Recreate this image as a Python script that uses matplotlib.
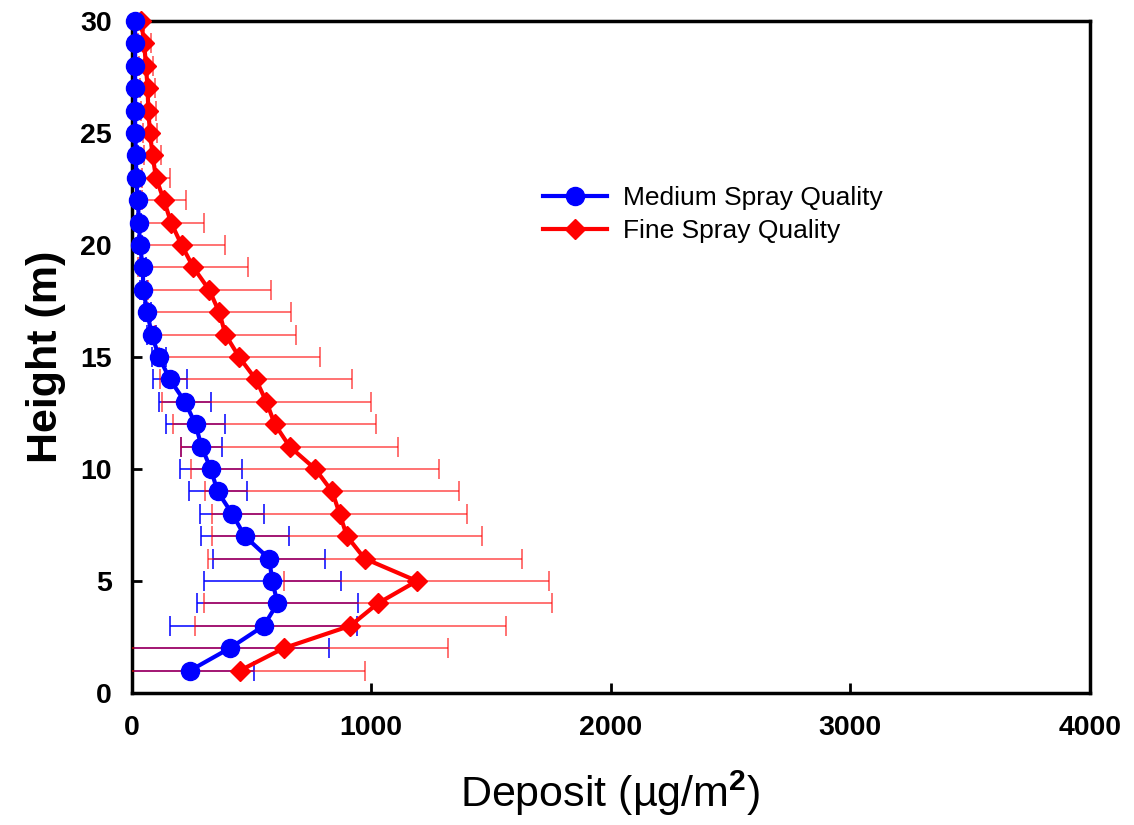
import numpy as np
import matplotlib.pyplot as plt

plt.rcParams['font.family'] = ['Liberation Sans', 'DejaVu Sans']
plt.rcParams['mathtext.fontset'] = 'custom'
plt.rcParams['mathtext.rm'] = 'Liberation Sans'
plt.rcParams['mathtext.bf'] = 'Liberation Sans:bold'

# heights (m)
height = np.arange(1, 31)

# Medium spray quality: mean deposit and sd (ug/m2), heights 1..30
medium = [244, 410, 552, 609, 588, 574, 473, 420, 359, 331,
          292, 267, 223, 160, 115, 84, 66, 49, 47, 35,
          31, 26, 19, 19, 15, 15, 15, 15, 15, 15]
medium_sd = [268, 414, 390, 336, 285, 235, 183, 133, 121, 128,
             85, 125, 108, 70, 28, 20, 15, 15, 12, 10,
             10, 8, 6, 6, 5, 5, 5, 5, 5, 5]

# Fine spray quality
fine = [452, 635, 913, 1028, 1191, 973, 899, 869, 837, 767,
        660, 598, 563, 519, 449, 392, 366, 324, 258, 209,
        165, 135, 102, 88, 77, 70, 67, 60, 53, 40]
fine_sd = [521, 685, 650, 727, 553, 655, 564, 533, 532, 518,
           452, 424, 435, 401, 336, 293, 299, 257, 229, 182,
           137, 91, 58, 35, 31, 32, 31, 28, 28, 12]

fig = plt.figure(figsize=(11.34, 8.25), dpi=100)
ax = fig.add_axes([0.116, 0.16, 0.845, 0.8145])

ax.errorbar(medium, height, xerr=medium_sd, fmt='none', ecolor='blue',
            elinewidth=1.1, capsize=7, capthick=1.1, zorder=2)
ax.errorbar(fine, height, xerr=fine_sd, fmt='none', ecolor='red',
            elinewidth=1.1, capsize=7, capthick=1.1, alpha=0.7, zorder=3)
ax.plot(fine, height, color='red', marker='D', markersize=10, lw=3,
        label='Fine Spray Quality', zorder=4, clip_on=False)
ax.plot(medium, height, color='blue', marker='o', markersize=13, lw=3,
        label='Medium Spray Quality', zorder=5, clip_on=False)

ax.set_xlim(0, 4000)
ax.set_ylim(0, 30)
ax.set_xticks([0, 1000, 2000, 3000, 4000])
ax.set_yticks([0, 5, 10, 15, 20, 25, 30])
ax.tick_params(direction='in', length=7, width=2, labelsize=20.5, top=False, right=False)
ax.tick_params(axis='x', pad=16)
ax.tick_params(axis='y', pad=14)
for lab in ax.get_xticklabels() + ax.get_yticklabels():
    lab.set_fontweight('bold')
for sp in ax.spines.values():
    sp.set_linewidth(2.5)

ax.set_xlabel(r'Deposit (µg/m$^\mathbf{2}$)', fontsize=31, labelpad=20)
ax.set_ylabel('Height (m)', fontsize=31, fontweight='bold', labelpad=10)

h, l = ax.get_legend_handles_labels()
ax.legend(h[::-1], l[::-1], frameon=False, fontsize=19, loc='upper left',
          bbox_to_anchor=(0.405, 0.79), handlelength=2.4, labelspacing=0.35,
          handletextpad=0.6)

fig.savefig('out.png', dpi=100)
